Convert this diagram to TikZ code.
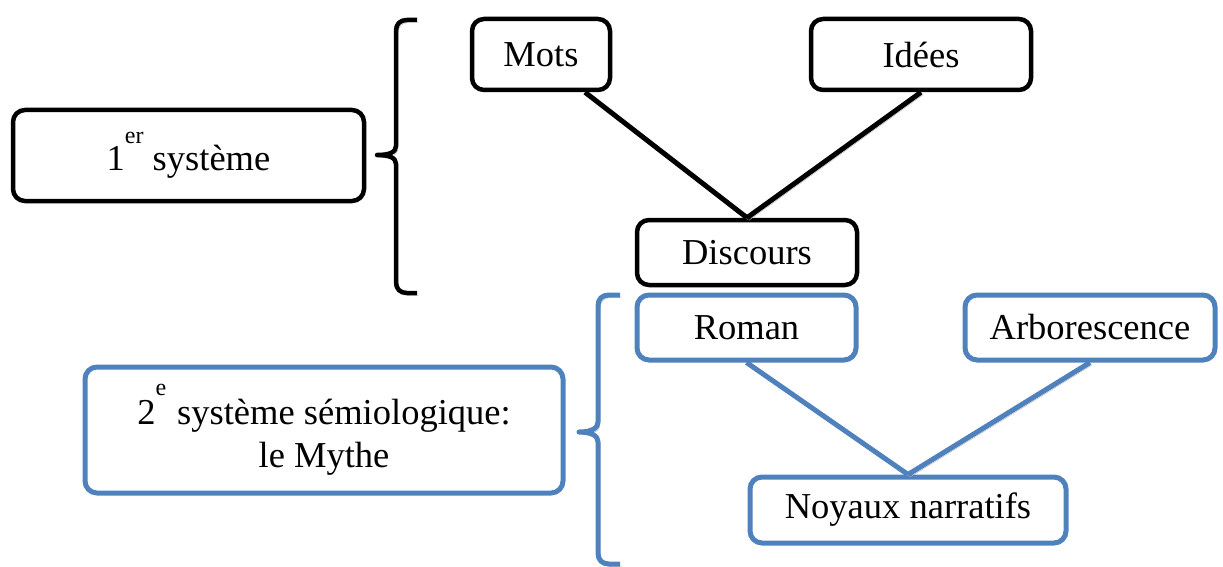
\documentclass[tikz,border=0pt]{standalone}
\usepackage{fontspec}
\setmainfont{Liberation Serif}
\usepackage{graphicx}
\usepackage{tikz}
\usetikzlibrary{calc,positioning}
\usepackage{xcolor}
\definecolor{officeblue}{RGB}{79,129,189}

\begin{document}
\begin{tikzpicture}[x=1pt,y=-1pt,
	  every node/.style={align=center,inner sep=0pt,font=\fontsize{36.5}{43}\selectfont},
	  firstsys/.style={draw=black,line width=4.5pt,rounded corners=12pt},
	  secondsys/.style={draw=officeblue,line width=5pt,rounded corners=12pt},
	  shade/.style={preaction={draw=gray!60,transform canvas={shift={(2pt,-2.5pt)}}}},
	  link/.style={shade,draw=black,line width=5pt},
	  bluelink/.style={shade,draw=officeblue,line width=5pt},
	  brace/.style={shade,draw=black,line width=4.5pt,line join=round},
	  bluebrace/.style={shade,draw=officeblue,line width=5pt,line join=round}]

	  \useasboundingbox (0,0) rectangle (1223,567);

	  % first system
	  \node[firstsys,minimum width=351pt,minimum height=91pt] (premier) at (188.5,155.5) {1\raisebox{0.75em}{\fontsize{24}{24}\selectfont er}\ système};
	  \node[firstsys,minimum width=138pt,minimum height=71pt] (mots) at (541,54.5) {Mots};
	  \node[firstsys,minimum width=220pt,minimum height=71pt] (idees) at (921,54.5) {Idées};
	  \node[firstsys,minimum width=220pt,minimum height=65pt] (discours) at (747,252.5) {Discours};

	  % second system
	  \node[secondsys,minimum width=478pt,minimum height=126pt] (second) at (324,430) {2\raisebox{0.78em}{\fontsize{24}{24}\selectfont e}\hspace{11pt}système sémiologique:\\le Mythe};
	  \node[secondsys,minimum width=219pt,minimum height=65pt] (roman) at (746.5,327.5) {Roman};
	  \node[secondsys,minimum width=250pt,minimum height=65pt] (arbo) at (1090,327.5) {Arborescence};
	  \node[secondsys,minimum width=316pt,minimum height=66pt] (noyaux) at (908,510) {Noyaux narratifs};

	  \draw[link] ($(mots.south)+(44,0)$) -- (discours.north);
	  \draw[link] (idees.south) -- (discours.north);
	  \draw[bluelink] (roman.south) -- (noyaux.north);
	  \draw[bluelink] (arbo.south) -- (noyaux.north);

	  % braces
	  \draw[brace] (417,20) -- (407,20) .. controls (400,20) and (396,24) .. (396,31) -- (396,146)
	     .. controls (396,152) and (390,155) .. (377,155) .. controls (390,155) and (396,158) .. (396,164)
	     -- (396,282) .. controls (396,289) and (400,293) .. (407,293) -- (417,293);
	  \draw[bluebrace] (620,295) -- (609,295) .. controls (602,295) and (598,299) .. (598,306) -- (598,422)
	     .. controls (598,428) and (592,432) .. (579,432) .. controls (592,432) and (598,436) .. (598,442)
	     -- (598,553) .. controls (598,560) and (602,564) .. (609,564) -- (620,564);
\end{tikzpicture}
\end{document}
